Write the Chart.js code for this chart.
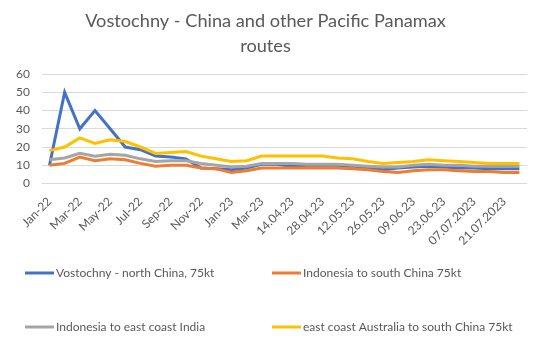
<html lang="en">
  <head>
    <meta charset="utf-8" />
    <title>Vostochny - China and other Pacific Panamax routes</title>
    <script src="https://cdn.jsdelivr.net/npm/chart.js@4.4.1/dist/chart.umd.min.js"></script>
    <style>
      html,
      body {
        padding: 0;
        margin: 0;
        background: #ffffff;
      }
      #chartDiv {
        width: 560px;
        height: 349px;
      }
    </style>
  </head>

  <body>
    <div id="chartDiv">
      <canvas id="routes-chart" width="560" height="349"></canvas>
    </div>

    <script>
      const titleLines = ["Vostochny - China and other Pacific Panamax", "routes"];

      const categories = [
        "Jan-22", "Feb-22", "Mar-22", "Apr-22", "May-22", "Jun-22", "Jul-22", "Aug-22",
        "Sep-22", "Oct-22", "Nov-22", "Dec-22", "Jan-23", "Feb-23", "Mar-23",
        "07.04.23", "14.04.23", "21.04.23", "28.04.23", "05.05.23", "12.05.23", "19.05.23",
        "26.05.23", "02.06.23", "09.06.23", "16.06.23", "23.06.23", "30.06.23",
        "07.07.2023", "14.07.2023", "21.07.2023", "28.07.2023"
      ];

      const seriesNames = [
        "Vostochny - north China, 75kt",
        "Indonesia to south China 75kt",
        "Indonesia to east coast India",
        "east coast Australia to south China 75kt"
      ];

      const vostochnyNorthChina = [10, 50, 30, 40, 30, 20, 18.5, 15, 14.5, 13.5, 8.5, 8, 7.5, 8.5, 10.5,
        10.5, 9.5, 10, 10, 10, 9.5, 8.5, 7.5, 8.5, 9, 9.5, 9, 8.5, 8.5, 8, 8, 8];
      const indonesiaSouthChina = [10, 11, 14.5, 12.5, 13.5, 13, 11, 9.5, 10, 10, 8.5, 8, 6, 7, 8.5,
        8.5, 8.5, 8.5, 8.5, 8.5, 8, 7.5, 6.5, 6, 7, 7.5, 7.5, 7, 6.5, 6.5, 6, 6];
      const indonesiaEastIndia = [13, 14, 16.5, 15, 16, 15.5, 13.5, 12, 12.5, 12.5, 11, 10, 9, 9.5, 11,
        11, 11, 10.5, 10.5, 10.5, 10, 9.5, 9, 9, 10, 10.5, 10, 10, 9.5, 9.5, 9.5, 9.5];
      const australiaSouthChina = [18, 20, 25, 22, 24, 23, 20, 16.5, 17, 17.5, 15, 13.5, 12, 12.5, 15,
        15, 15, 15, 15, 14, 13.5, 12, 11, 11.5, 12, 13, 12.5, 12, 11.5, 11, 11, 11];

      const yTicks = [0, 10, 20, 30, 40, 50, 60];

      const seriesColors = ["#4472C4", "#ED7D31", "#A5A5A5", "#FFC000"];
      const textColor = "#595959";
      const fontFamily = "Lato, 'Open Sans', sans-serif";

      // two column legend under the plot, like the spreadsheet one
      const gridLegend = {
        id: "gridLegend",
        afterDraw(chart) {
          const ctx = chart.ctx;
          const cols = [25, 272];
          const rows = [273, 327];
          ctx.save();
          ctx.font = "12px " + fontFamily;
          ctx.textBaseline = "middle";
          ctx.textAlign = "left";
          chart.data.datasets.forEach((ds, i) => {
            const x = cols[i % 2];
            const y = rows[Math.floor(i / 2)];
            ctx.strokeStyle = ds.borderColor;
            ctx.lineWidth = 3;
            ctx.beginPath();
            ctx.moveTo(x, y);
            ctx.lineTo(x + 29, y);
            ctx.stroke();
            ctx.fillStyle = textColor;
            ctx.fillText(ds.label, x + 31, y);
          });
          ctx.restore();
        }
      };

      const seriesData = [vostochnyNorthChina, indonesiaSouthChina, indonesiaEastIndia, australiaSouthChina];

      const routesChart = new Chart(document.getElementById("routes-chart").getContext("2d"), {
        type: "line",
        data: {
          labels: categories,
          datasets: seriesData.map((values, i) => ({
            label: seriesNames[i],
            data: values,
            borderColor: seriesColors[i],
            backgroundColor: seriesColors[i],
            borderWidth: 3,
            pointRadius: 0,
            tension: 0,
            order: seriesData.length - i
          }))
        },
        options: {
          responsive: false,
          animation: false,
          layout: {
            padding: { left: 4, right: 33, top: 0, bottom: 98 }
          },
          scales: {
            x: {
              offset: true,
              grid: { display: false },
              border: { display: false },
              ticks: {
                autoSkip: false,
                minRotation: 45,
                maxRotation: 45,
                color: textColor,
                font: { family: fontFamily, size: 12 },
                callback: (value, index) => (index % 2 === 0 ? categories[index] : "")
              }
            },
            y: {
              min: 0,
              max: 60,
              afterBuildTicks: (axis) => {
                axis.ticks = yTicks.map((v) => ({ value: v }));
              },
              grid: { color: "#d9d9d9", lineWidth: 1, drawTicks: false },
              border: { display: false },
              ticks: {
                padding: 12,
                color: textColor,
                font: { family: fontFamily, size: 12 }
              }
            }
          },
          plugins: {
            legend: { display: false },
            tooltip: { enabled: false },
            title: {
              display: true,
              text: titleLines,
              color: textColor,
              font: { family: fontFamily, size: 18.2, weight: "normal", lineHeight: 1.35 },
              padding: { top: 9, bottom: 16 }
            }
          }
        },
        plugins: [gridLegend]
      });
    </script>
  </body>
</html>
